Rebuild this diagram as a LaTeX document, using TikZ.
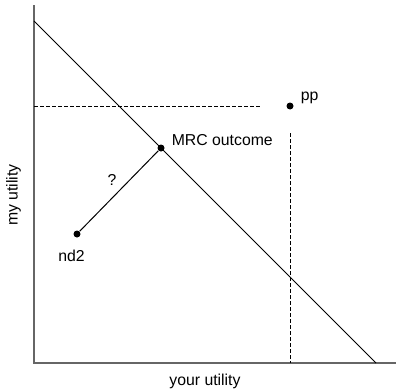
\documentclass[tikz,border=0pt]{standalone}
\usepackage{fontspec}
\setmainfont{Liberation Sans}
\usetikzlibrary{positioning}

\begin{document}
\begin{tikzpicture}[
    x=0.5pt, y=-0.5pt,
    axis/.style={draw, black!60, line width=0.8pt},
    frontier/.style={draw, line width=0.5pt},
    guide/.style={draw, dash pattern=on 2pt off 1pt, line width=0.5pt},
    dot/.style={circle, fill, inner sep=0pt, minimum size=3.5pt},
    lbl/.style={font=\fontsize{7.9}{9}\selectfont, inner sep=1pt}
  ]
  \useasboundingbox (0,0) rectangle (396,391);

  % axes
  \coordinate (origin) at (34,363);
  \coordinate (ytop) at (34,5);
  \coordinate (xend) at (396,363);
  \draw[axis] (ytop) -- (origin) -- (xend);

  % utility frontier
  \coordinate (mymax) at (34,21);
  \coordinate (yourmax) at (376,363);
  \draw[frontier] (mymax) -- (yourmax);

  \node[dot] (mrc) at (161,148) {};
  \node[dot] (pp) at (290,106) {};
  \node[dot] (nd2) at (77,234) {};

  \node[lbl, right=2.25pt of mrc, yshift=4pt] (mrclbl) {MRC outcome};
  \node[lbl, right=2.25pt of pp, yshift=4.2pt] (pplbl) {pp};
  \node[lbl, below=4.85pt of nd2, xshift=-2.75pt] (nd2lbl) {nd2};

  \draw[frontier] (nd2) -- node[lbl, above left=1.5pt and 0pt] (qlbl) {?} (mrc);
  \draw[guide, shorten >=12.25pt] (origin |- pp) -- (pp);
  \draw[guide, shorten <=11.75pt] (pp) -- (pp |- origin);

  \node[lbl] (xlbl) at (205,381) {your utility};
  \node[lbl, rotate=90] (ylbl) at (13.5,195) {my utility};

  \end{tikzpicture}
\end{document}
